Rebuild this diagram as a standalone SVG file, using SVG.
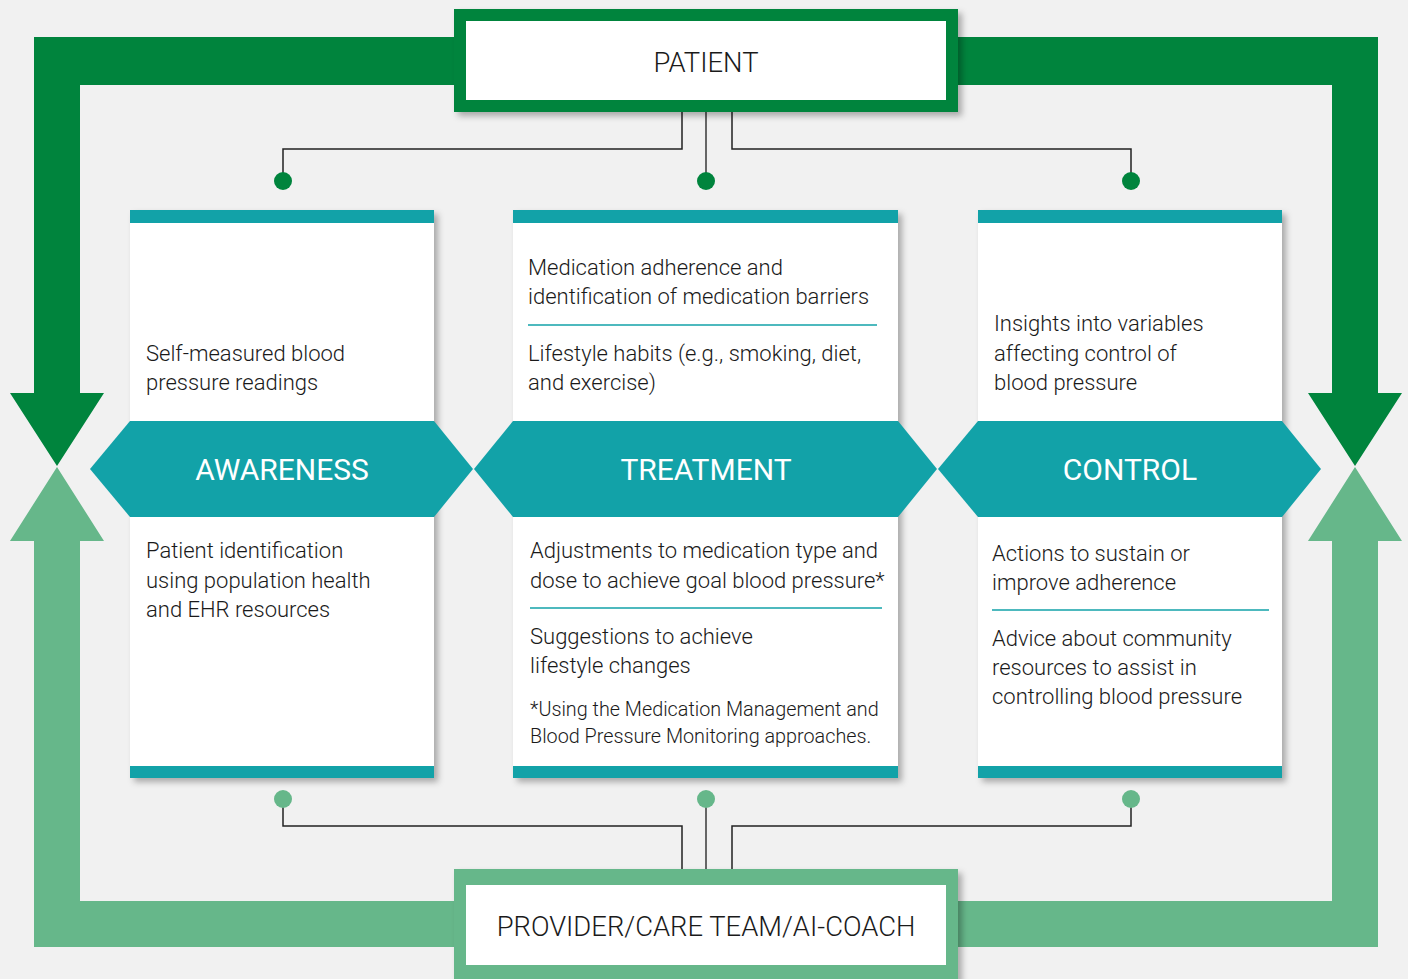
<svg xmlns="http://www.w3.org/2000/svg" width="1408" height="979" viewBox="0 0 1408 979">
<defs>
<style>
.t{font-family:Roboto,"Liberation Sans",sans-serif;font-weight:300;font-size:22px;fill:#1a1a1a}
.fn{font-size:19.8px}
.hl{font-family:Roboto,"Liberation Sans",sans-serif;font-weight:400;font-size:30px;fill:#fff;text-anchor:middle}
.bx{font-family:Roboto,"Liberation Sans",sans-serif;font-weight:300;font-size:27.4px;fill:#1a1a1a;text-anchor:middle}
.teal{fill:#12A2A8}
.sep{stroke:#12A2A8;stroke-width:1.5}
.ln{fill:none;stroke:#222;stroke-width:1.5}
.lnm{fill:none;stroke:#666;stroke-width:2}
.dk{fill:#00843D}
.lt{fill:#66B78A}
</style>
<filter id="sh" x="-10%" y="-10%" width="130%" height="130%">
<feDropShadow dx="4" dy="4" stdDeviation="3" flood-color="#000" flood-opacity="0.3"/>
</filter>
</defs>
<rect width="1408" height="979" fill="#F1F1F1"/>

<g id="loop-arrows">
<path class="dk" d="M34,37 H460 V85 H80 V393 H104 L57,466 L10,393 H34 Z"/>
<path class="dk" d="M950,37 H1378 V393 H1402 L1355,466 L1308,393 H1332 V85 H950 Z"/>
<path class="lt" d="M34,947 H460 V901 H80 V541 H104 L57,467 L10,541 H34 Z"/>
<path class="lt" d="M950,947 H1378 V541 H1402 L1355,467 L1308,541 H1332 V901 H950 Z"/>
</g>

<g id="connectors">
<path class="ln" d="M682,112 V149 H283 V181"/>
<path class="lnm" d="M706,112 V181"/>
<path class="ln" d="M732,112 V149 H1131 V181"/>
<circle class="dk" cx="283" cy="181" r="9"/>
<circle class="dk" cx="706" cy="181" r="9"/>
<circle class="dk" cx="1131" cy="181" r="9"/>
<path class="ln" d="M682,869 V826 H283 V799"/>
<path class="lnm" d="M706,869 V799"/>
<path class="ln" d="M732,869 V826 H1131 V799"/>
<circle class="lt" cx="283" cy="799" r="9"/>
<circle class="lt" cx="706" cy="799" r="9"/>
<circle class="lt" cx="1131" cy="799" r="9"/>
</g>

<g id="patient">
<rect x="454" y="9" width="504" height="103" class="dk" filter="url(#sh)"/>
<rect x="466" y="21" width="480" height="79" fill="#fff"/>
<text class="bx" x="706" y="72">PATIENT</text>
</g>

<g id="provider">
<rect x="454" y="869" width="504" height="115" class="lt" filter="url(#sh)"/>
<rect x="466" y="885" width="480" height="80" fill="#fff"/>
<text class="bx" x="706" y="936">PROVIDER/CARE TEAM/AI-COACH</text>
</g>

<g id="awareness">
<rect x="130" y="210" width="304" height="568" fill="#fff" filter="url(#sh)"/>
<rect x="130" y="210" width="304" height="13" class="teal"/>
<rect x="130" y="766" width="304" height="12" class="teal"/>
<polygon class="teal" points="90,469 130,421 434,421 473,469 434,517 130,517"/>
<text class="hl" x="282" y="480">AWARENESS</text>
<text class="t" x="146" y="361">Self-measured blood</text>
<text class="t" x="146" y="390">pressure readings</text>
<text class="t" x="146" y="558">Patient identification</text>
<text class="t" x="146" y="588">using population health</text>
<text class="t" x="146" y="617">and EHR resources</text>
</g>

<g id="treatment">
<rect x="513" y="210" width="385" height="568" fill="#fff" filter="url(#sh)"/>
<rect x="513" y="210" width="385" height="13" class="teal"/>
<rect x="513" y="766" width="385" height="12" class="teal"/>
<polygon class="teal" points="474,469 513,421 898,421 937,469 898,517 513,517"/>
<text class="hl" x="706" y="480">TREATMENT</text>
<text class="t" x="528" y="275">Medication adherence and</text>
<text class="t" x="528" y="304">identification of medication barriers</text>
<line class="sep" x1="528" y1="325" x2="877" y2="325"/>
<text class="t" x="528" y="361">Lifestyle habits (e.g., smoking, diet,</text>
<text class="t" x="528" y="390">and exercise)</text>
<text class="t" x="530" y="558">Adjustments to medication type and</text>
<text class="t" x="530" y="588">dose to achieve goal blood pressure*</text>
<line class="sep" x1="530" y1="608" x2="882" y2="608"/>
<text class="t" x="530" y="644">Suggestions to achieve</text>
<text class="t" x="530" y="673">lifestyle changes</text>
<text class="t fn" x="530" y="716">*Using the Medication Management and</text>
<text class="t fn" x="530" y="743">Blood Pressure Monitoring approaches.</text>
</g>

<g id="control">
<rect x="978" y="210" width="304" height="568" fill="#fff" filter="url(#sh)"/>
<rect x="978" y="210" width="304" height="13" class="teal"/>
<rect x="978" y="766" width="304" height="12" class="teal"/>
<polygon class="teal" points="938,469 978,421 1282,421 1321,469 1282,517 978,517"/>
<text class="hl" x="1130" y="480">CONTROL</text>
<text class="t" x="994" y="331">Insights into variables</text>
<text class="t" x="994" y="361">affecting control of</text>
<text class="t" x="994" y="390">blood pressure</text>
<text class="t" x="992" y="561">Actions to sustain or</text>
<text class="t" x="992" y="590">improve adherence</text>
<line class="sep" x1="992" y1="610" x2="1269" y2="610"/>
<text class="t" x="992" y="646">Advice about community</text>
<text class="t" x="992" y="675">resources to assist in</text>
<text class="t" x="992" y="704">controlling blood pressure</text>
</g>
</svg>
